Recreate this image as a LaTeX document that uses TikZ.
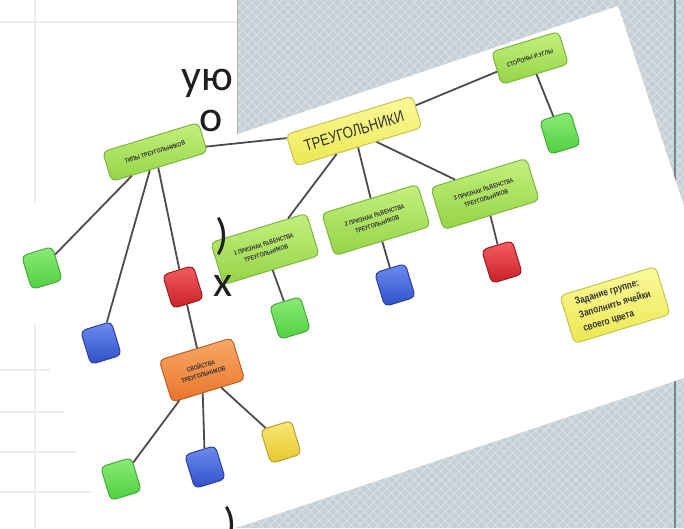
\documentclass[tikz,border=0pt]{standalone}
\usepackage{fontspec}
\newfontfamily\mapfont[FakeStretch=0.82]{Liberation Sans}
\newfontfamily\slidefont{Carlito}
\usetikzlibrary{calc}

\definecolor{panelgray}{HTML}{C6CFD5}
\definecolor{panelline}{HTML}{D8DFE3}
\definecolor{panelborder}{HTML}{6C8791}
\definecolor{slidegrid}{HTML}{EDEDED}
\definecolor{linkgray}{HTML}{4C4C4C}
\definecolor{limetop}{HTML}{C4F07E}
\definecolor{limebot}{HTML}{94D446}
\definecolor{limeedge}{HTML}{7DB63E}
\definecolor{yeltop}{HTML}{FBFA9C}
\definecolor{yelbot}{HTML}{ECE752}
\definecolor{yeledge}{HTML}{C8C24E}
\definecolor{gsqtop}{HTML}{8CEB78}
\definecolor{gsqbot}{HTML}{4FCF3F}
\definecolor{gsqedge}{HTML}{45A93A}
\definecolor{bsqtop}{HTML}{6D8DF0}
\definecolor{bsqbot}{HTML}{2F4FC8}
\definecolor{bsqedge}{HTML}{2B3F9A}
\definecolor{rsqtop}{HTML}{F45E62}
\definecolor{rsqbot}{HTML}{C91F28}
\definecolor{rsqedge}{HTML}{9A1A20}
\definecolor{ysqtop}{HTML}{F9E977}
\definecolor{ysqbot}{HTML}{E8C62B}
\definecolor{ysqedge}{HTML}{B89F31}
\definecolor{ortop}{HTML}{F8AA68}
\definecolor{orbot}{HTML}{E8742A}
\definecolor{oredge}{HTML}{BF5F22}

\begin{document}
\begin{tikzpicture}[x=1pt,y=-1pt,>=latex,
  mapbox/.style={rotate=17, rounded corners=5pt, draw, line width=1pt,
    inner sep=1pt, align=center, text=black!80,
    font=\mapfont\bfseries\fontsize{6.3}{9}\selectfont},
  limebox/.style={mapbox, draw=limeedge, top color=limetop, bottom color=limebot},
  yelbox/.style={mapbox, draw=yeledge, top color=yeltop, bottom color=yelbot},
  orbox/.style={mapbox, draw=oredge, top color=ortop, bottom color=orbot},
  sq/.style={mapbox, minimum width=32, minimum height=35},
  gsq/.style={sq, draw=gsqedge, top color=gsqtop, bottom color=gsqbot},
  bsq/.style={sq, draw=bsqedge, top color=bsqtop, bottom color=bsqbot},
  rsq/.style={sq, draw=rsqedge, top color=rsqtop, bottom color=rsqbot},
  ysq/.style={sq, draw=ysqedge, top color=ysqtop, bottom color=ysqbot},
  link/.style={draw=linkgray, line width=1.8},
  slidetext/.style={anchor=base east, inner sep=0, text=black!88,
    font=\slidefont\fontsize{44}{50}\selectfont}]
  \useasboundingbox (0,0) rectangle (684,528);

  % slide behind the photo
  \fill[white] (0,0) rectangle (684,528);
  \foreach \y in {22,370,412,452,492}
    \draw[slidegrid, line width=1.5] (0,\y) -- (237,\y);
  \draw[slidegrid, line width=1.5] (35,0) -- (35,528);

  % patterned side panel
  \fill[panelgray] (237,0) rectangle (684,528);
  \begin{scope}
    \clip (237,0) rectangle (684,528);
    \foreach \i in {-300,-291,...,690}
      \draw[panelline, line width=1.2] (\i,0) -- ++(528,528);
    \foreach \i in {237,246,...,1230}
      \draw[panelline, line width=1.2] (\i,0) -- ++(-528,528);
  \end{scope}
  \draw[black!30, line width=0.8] (237,0) -- (237,528);
  \draw[panelborder, line width=2] (675,0) -- (675,528);

  % the photo
  \fill[white] (-2,215) -- (618,6) -- (735,361) -- (116,568) -- cycle;

  % mind map
  \node[yelbox, minimum width=132, minimum height=33,
    font=\mapfont\fontsize{16}{18}\selectfont] (tri) at (354,131) {ТРЕУГОЛЬНИКИ};
  \node[limebox, minimum width=100, minimum height=31] (types) at (155,152) {ТИПЫ ТРЕУГОЛЬНИКОВ};
  \node[limebox, minimum width=70, minimum height=34] (sides) at (530,58) {СТОРОНЫ И УГЛЫ};
  \node[gsq] (sidesq) at (560,133) {};

  \node[limebox, minimum width=100, minimum height=44] (signA) at (265,249) {1 ПРИЗНАК РАВЕНСТВА\\ТРЕУГОЛЬНИКОВ};
  \node[limebox, minimum width=100, minimum height=44] (signB) at (376,220) {2 ПРИЗНАК РАВЕНСТВА\\ТРЕУГОЛЬНИКОВ};
  \node[limebox, minimum width=100, minimum height=44] (signC) at (485,194) {3 ПРИЗНАК РАВЕНСТВА\\ТРЕУГОЛЬНИКОВ};
  \node[gsq] (sqA) at (290,318) {};
  \node[bsq] (sqB) at (395,285) {};
  \node[rsq] (sqC) at (502,262) {};

  \node[gsq] (typeg) at (42,268) {};
  \node[bsq] (typeb) at (101,343) {};
  \node[rsq] (typer) at (183,287) {};

  \node[orbox, minimum width=76, minimum height=44] (props) at (202,370) {СВОЙСТВА\\ТРЕУГОЛЬНИКОВ};
  \node[gsq] (propg) at (121,479) {};
  \node[bsq] (propb) at (205,467) {};
  \node[ysq] (propy) at (281,442) {};

  \node[yelbox, minimum width=100, minimum height=50, align=left,
    font=\mapfont\bfseries\fontsize{10}{14}\selectfont] (task) at (615,305)
    {Задание группе:\\Заполнить ячейки\\своего цвета};

  \draw[link] (tri) -- (types);
  \draw[link] (tri) -- (sides);
  \draw[link] (sides) -- (sidesq);
  \draw[link] (tri) -- (signA);
  \draw[link] (tri) -- (signB);
  \draw[link] (tri) -- (signC);
  \draw[link] (signA) -- (sqA);
  \draw[link] (signB) -- (sqB);
  \draw[link] (signC) -- (sqC);
  \draw[link] (types) -- (typeg);
  \draw[link] (types) -- (typeb);
  \draw[link] (types) -- (typer);
  \draw[link] (typer) -- (props);
  \draw[link] (props) -- (propg);
  \draw[link] (props) -- (propb);
  \draw[link] (props) -- (propy);

  % slide text cut off by the panel
  \node[slidetext] (w1) at (233,90) {ую};
  \node[slidetext] (w2) at (223,131) {о};
  \node[slidetext] (w3) at (229,249) {)};
  \node[slidetext] (w4) at (233,296) {х};
  \node[slidetext] (w5) at (237,538) {)};
\end{tikzpicture}
\end{document}
